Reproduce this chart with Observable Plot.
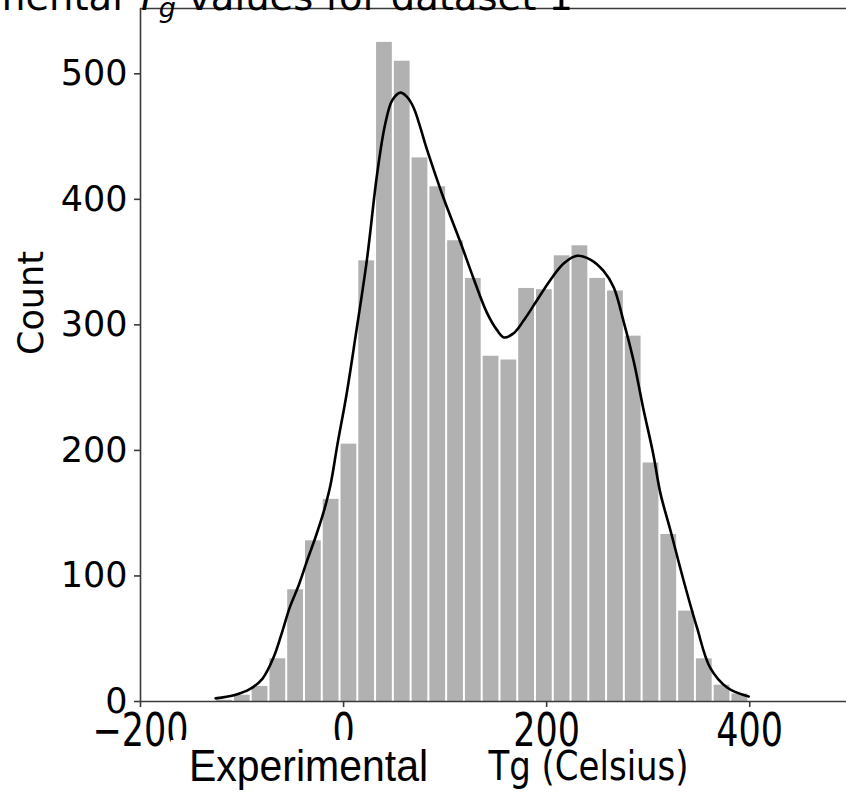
<!DOCTYPE html>
<html>
<head>
<meta charset="utf-8">
<script src="https://cdn.jsdelivr.net/npm/d3@7"></script>
<script src="https://cdn.jsdelivr.net/npm/@observablehq/plot@0.6"></script>
<style>
  html, body { margin: 0; padding: 0; background: #fff; overflow: hidden; }
  #chart { width: 846px; height: 792px; }
</style>
</head>
<body>
<div id="chart"></div>
<script>
// Experimental glass-transition temperatures (Tg, °C) for dataset 1:
// 30 equal-width histogram bins plus a kernel density outline.
const binStart = -126;
const binWidth = 17.5;
const binCounts = [1, 5, 12, 34, 89, 128, 161, 205, 351, 525,
                   510, 433, 410, 367, 337, 275, 272, 329, 328, 355,
                   363, 337, 327, 291, 190, 133, 72, 34, 13, 6];

// Density curve, scaled to counts
const kdeX = [-126, -108, -92, -80, -69, -61, -53, -44, -36, -28, -20, -13, -6, 3, 12, 23, 33, 41, 48, 56,
              62, 69, 82, 98, 115, 128, 141, 151, 158, 167, 177, 190, 203, 217, 230, 243, 256, 266,
              276, 286, 295, 305, 312, 322, 335, 348, 361, 378, 399];
const kdeY = [2.5, 5, 10, 18, 35, 54, 75, 93, 112, 130, 150, 172, 205, 245, 292, 352, 420, 460, 479, 485,
              482, 473, 440, 402, 366, 337, 310, 296, 290, 293, 303, 319, 335, 349, 355, 352, 343, 330,
              302, 270, 234, 197, 166, 136, 96, 59, 27, 11, 4];

const xTicks = [-200, 0, 200, 400];
const yTicks = [0, 100, 200, 300, 400, 500];
const xDomain = [-200, 495.3];
const yDomain = [0, 552];

const bins = binCounts.map((count, i) => ({
  x1: binStart + i * binWidth,
  x2: binStart + (i + 1) * binWidth,
  count
}));
const kde = kdeX.map((x, i) => ({x, y: kdeY[i]}));

const spine = "#3a3a3a";

const plot = Plot.plot({
  width: 846,
  height: 792,
  marginLeft: 140,
  marginRight: 0,
  marginTop: 8,
  marginBottom: 91,
  style: {fontFamily: "DejaVu Sans", fontSize: "35px", color: "#000", background: "#fff"},
  x: {domain: xDomain},
  y: {domain: yDomain},
  marks: [
    Plot.rectY(bins, {x1: "x1", x2: "x2", y: "count", fill: "#b1b1b1", insetLeft: 1, insetRight: 1}),
    Plot.line(kde, {x: "x", y: "y", curve: "catmull-rom", stroke: "#000", strokeWidth: 2.6}),
    // spines: left, bottom, top
    Plot.ruleX([xDomain[0]], {stroke: spine, strokeWidth: 1.6}),
    Plot.ruleY([0], {stroke: spine, strokeWidth: 1.6}),
    Plot.ruleY([yDomain[1]], {stroke: spine, strokeWidth: 1.6}),
    Plot.axisX({ticks: xTicks, tickSize: 6, tickPadding: 6, fontSize: 35, label: null, stroke: spine, strokeWidth: 1.6}),
    Plot.axisY({ticks: yTicks, tickSize: 6, tickPadding: 7, fontSize: 35, label: null, stroke: spine, strokeWidth: 1.6}),
    // axis titles
    Plot.text(["Count"], {frameAnchor: "left", rotate: -90, dx: -108.5, fontSize: 35, fill: "#000"}),
    Plot.text(["Experimental"], {frameAnchor: "bottom", lineAnchor: "bottom", dx: -185, dy: 79,
      fontFamily: "Liberation Sans", fontSize: 41, fill: "#000"}),
    Plot.text(["Tg (Celsius)"], {frameAnchor: "bottom", lineAnchor: "bottom", dx: 95, dy: 78,
      fontSize: 34, fill: "#000"})
  ]
});

document.getElementById("chart").append(plot);
const svg = d3.select(plot);

// The lower strip of text is set taller than wide: stretch it vertically about its anchor
function stretchY(selection, k) {
  selection.each(function () {
    const t = this.getAttribute("transform");
    if (t && t.includes("translate")) {
      this.setAttribute("transform", `${t} scale(1,${k})`);
    } else {
      const x = +this.getAttribute("x") || 0, y = +this.getAttribute("y") || 0;
      this.setAttribute("transform", `translate(${x},${y}) scale(1,${k}) translate(${-x},${-y})`);
    }
  });
}
stretchY(svg.selectAll('g[aria-label="x-axis tick label"] text'), 1.3);
const experimental = svg.selectAll("text").filter(function () { return this.textContent === "Experimental"; });
stretchY(experimental, 1.1);
stretchY(svg.selectAll("text").filter(function () { return this.textContent === "Tg (Celsius)"; }), 1.2);

// "Experimental" sits on an opaque white label box that overlaps the tick labels above it
experimental.each(function () {
  const b = this.getBoundingClientRect();
  const s = plot.getBoundingClientRect();
  const g = this.parentNode;
  const host = g.parentNode;
  const box = document.createElementNS("http://www.w3.org/2000/svg", "rect");
  box.setAttribute("x", b.left - s.left - 18);
  box.setAttribute("y", 740);
  box.setAttribute("width", b.width + 36);
  box.setAttribute("height", 52);
  box.setAttribute("fill", "#fff");
  host.insertBefore(box, g);
});

// Title with a math-style subscript, set right-aligned at the top edge
const title = svg.append("text")
  .attr("x", 573)
  .attr("y", 9.5)
  .attr("text-anchor", "end")
  .attr("font-family", "DejaVu Sans")
  .attr("font-size", 38.5)
  .attr("fill", "#000");
title.append("tspan").text("Experimental ");
title.append("tspan").attr("font-style", "italic").text("T");
title.append("tspan").attr("font-style", "italic").attr("font-size", 27).attr("dy", 7.5).text("g");
title.append("tspan").attr("dy", -7.5).text(" values for dataset 1");
</script>
</body>
</html>
